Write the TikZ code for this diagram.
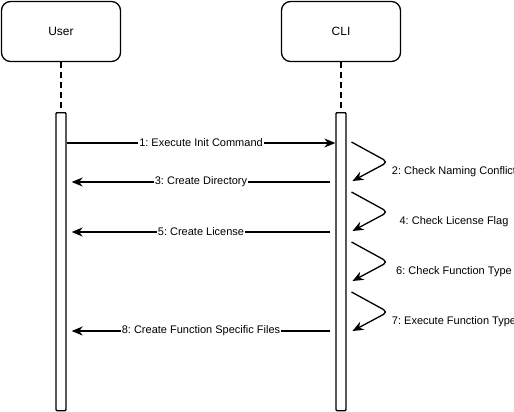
\documentclass[tikz,border=0pt]{standalone}
\usepackage{fontspec}
\setmainfont{Liberation Sans}
\usetikzlibrary{arrows.meta}
\frenchspacing
\begin{document}
\begin{tikzpicture}[x=1pt,y=-1pt,
 actor/.style={draw, line width=1.3pt, rounded corners=9pt, minimum width=119pt, minimum height=60pt, font=\fontsize{12}{14}\selectfont, fill=white, inner sep=0},
 bar/.style={draw, line width=1.3pt, fill=white, minimum width=10pt, minimum height=298pt, inner sep=0, rounded corners=1pt},
 life/.style={line width=1.3pt, dash pattern=on 6pt off 4pt},
 msg/.style={line width=1.3pt, -{Stealth[length=11pt,width=9pt,inset=3.5pt]}},
 lbl/.style={fill=white, inner sep=1pt, font=\fontsize{11}{13}\selectfont},
 slbl/.style={inner sep=1pt, font=\fontsize{11}{13}\selectfont},
 selfmsg/.style={msg, rounded corners=5pt},
]
\useasboundingbox (0,0) rectangle (514,412);
\node[actor] (user) at (61,31.5) {User};
\node[actor] (cli) at (341,31.5) {CLI};
\node[bar, anchor=north] (ubar) at (61,112) {};
\node[bar, anchor=north] (cbar) at (341,112) {};
\draw[life] (user.south) -- (ubar.north);
\draw[life] (cli.south) -- (cbar.north);
% message coordinates
\coordinate (y1) at (0,143);
\coordinate (y3) at (0,182);
\coordinate (y5) at (0,232);
\coordinate (y8) at (0,331);
% 1
\draw[msg] (ubar.east |- y1) -- (cbar.west |- y1) node[lbl, midway] {1: Execute Init Command};
% 3, 5, 8
\draw[msg] ([xshift=-5pt]cbar.west |- y3) -- ([xshift=5pt]ubar.east |- y3) node[lbl, midway] {3: Create Directory};
\draw[msg] ([xshift=-5pt]cbar.west |- y5) -- ([xshift=5pt]ubar.east |- y5) node[lbl, midway] {5: Create License};
\draw[msg] ([xshift=-5pt]cbar.west |- y8) -- ([xshift=5pt]ubar.east |- y8) node[lbl, midway] {8: Create Function Specific Files};
% self messages
\foreach \s/\t [count=\i] in {142/2: Check Naming Conflict, 192/4: Check License Flag, 242/6: Check Function Type, 292/7: Execute Function Type}{
  \coordinate (s\i a) at (351.5,\s);
  \coordinate (s\i b) at (388,\s+20);
  \coordinate (s\i c) at (352.5,\s+39);
  \draw[selfmsg] (s\i a) -- (s\i b) -- (s\i c);
  \node[slbl] (l\i) at (454,\s+30) {\t};
}
\end{tikzpicture}
\end{document}
